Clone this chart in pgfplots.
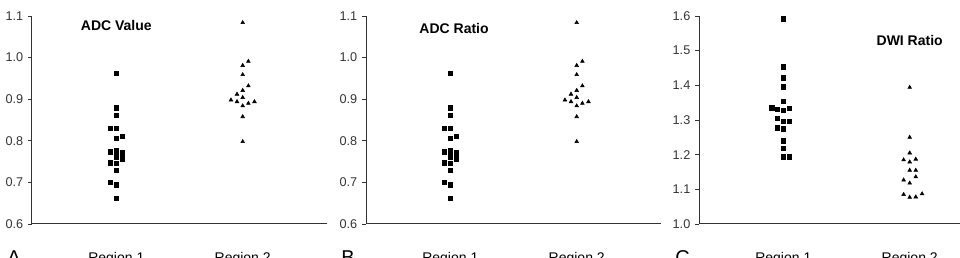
\documentclass[border=0pt]{standalone}
\usepackage{fontspec}
\setmainfont{Liberation Sans}
\usepackage{pgfplots}
\pgfplotsset{compat=1.18}
\pgfplotsset{
 panel/.style={scale only axis, width=221.25pt, height=156pt, xmin=0.333, xmax=2.667,
   axis x line=bottom, axis y line=left, axis line style={draw=black!80, line width=0.75pt, -},
   xtick={1,2}, xticklabels={Region 1, Region 2}, major x tick style={draw=none},
   tick align=outside, major tick length=3pt, major y tick style={draw=black!80, line width=0.6pt},
   ticklabel style={font=\fontsize{9.5}{10}\selectfont, text=black!80},
   xticklabel style={font=\fontsize{10.5}{12}\selectfont, text=black, inner sep=0pt, anchor=north, yshift=-18pt},
   y tick label style={/pgf/number format/fixed, /pgf/number format/fixed zerofill, /pgf/number format/precision=1},
   /pgf/number format/assume math mode=true,
   clip=false, anchor=south west},
 sq/.style={only marks, mark=square*, mark size=1.75pt, black},
 tri/.style={only marks, mark=triangle*, mark size=1.6pt, black},
}
\begin{document}
\begin{tikzpicture}
\pgfplotstableread{
x y
1 0.962
1 0.880
1 0.861
0.952 0.830
1 0.830
1.048 0.811
1 0.806
0.952 0.774
1 0.776
1.048 0.771
1 0.762
1.048 0.757
0.952 0.747
1 0.746
1 0.729
0.952 0.700
1 0.695
1 0.662
}\adcone
\pgfplotstableread{
x y
2 1.084
2.045 0.991
2 0.981
2 0.959
2.045 0.932
2 0.921
1.955 0.912
2 0.904
1.907 0.898
1.955 0.894
2.093 0.894
2.045 0.890
2 0.884
2 0.858
2 0.798
}\adctwo
\pgfplotstableread{
x y
1 1.592
1 1.454
1 1.422
1 1.395
1 1.354
0.907 1.336
0.952 1.331
1 1.328
1.048 1.334
0.952 1.305
1 1.296
1.048 1.296
0.952 1.278
1 1.274
1 1.241
1 1.218
1 1.193
1.048 1.194
}\dwione
\pgfplotstableread{
x y
2 1.394
2 1.250
2 1.205
1.952 1.185
2 1.179
2.048 1.187
2 1.155
2.048 1.155
2.048 1.136
1.952 1.127
2 1.118
1.952 1.085
2 1.077
2.048 1.078
2.098 1.087
}\dwitwo
% Panel A
\begin{axis}[panel, at={(24pt,24.75pt)}, ymin=0.6, ymax=1.1, ytick={0.6,0.7,...,1.1}]
\addplot[sq] table[x=x,y=y] {\adcone};
\addplot[tri] table[x=x,y=y] {\adctwo};
\node[font=\bfseries\fontsize{10.5}{12}\selectfont] at (axis cs:1,1.076) {ADC Value};
\end{axis}
% Panel B
\begin{axis}[panel, at={(274.5pt,24.75pt)}, ymin=0.6, ymax=1.1, ytick={0.6,0.7,...,1.1}]
\addplot[sq] table[x=x,y=y] {\adcone};
\addplot[tri] table[x=x,y=y] {\adctwo};
\node[font=\bfseries\fontsize{10.5}{12}\selectfont] at (axis cs:1.03,1.07) {ADC Ratio};
\end{axis}
% Panel C
\begin{axis}[panel, at={(524.25pt,24.75pt)}, ymin=1.0, ymax=1.6, ytick={1.0,1.1,...,1.6}]
\addplot[sq] table[x=x,y=y] {\dwione};
\addplot[tri] table[x=x,y=y] {\dwitwo};
\node[font=\bfseries\fontsize{10.5}{12}\selectfont] at (axis cs:2,1.53) {DWI Ratio};
\end{axis}
\node[anchor=north west, inner sep=0pt, font=\fontsize{15}{16}\selectfont] at (5.25pt,5.25pt) {A};
\node[anchor=north west, inner sep=0pt, font=\fontsize{15}{16}\selectfont] at (255.75pt,5.25pt) {B};
\node[anchor=north west, inner sep=0pt, font=\fontsize{15}{16}\selectfont] at (506.25pt,5.25pt) {C};
\pgfresetboundingbox
\useasboundingbox (0,0) rectangle (720pt,192.75pt);
\end{tikzpicture}
\end{document}
